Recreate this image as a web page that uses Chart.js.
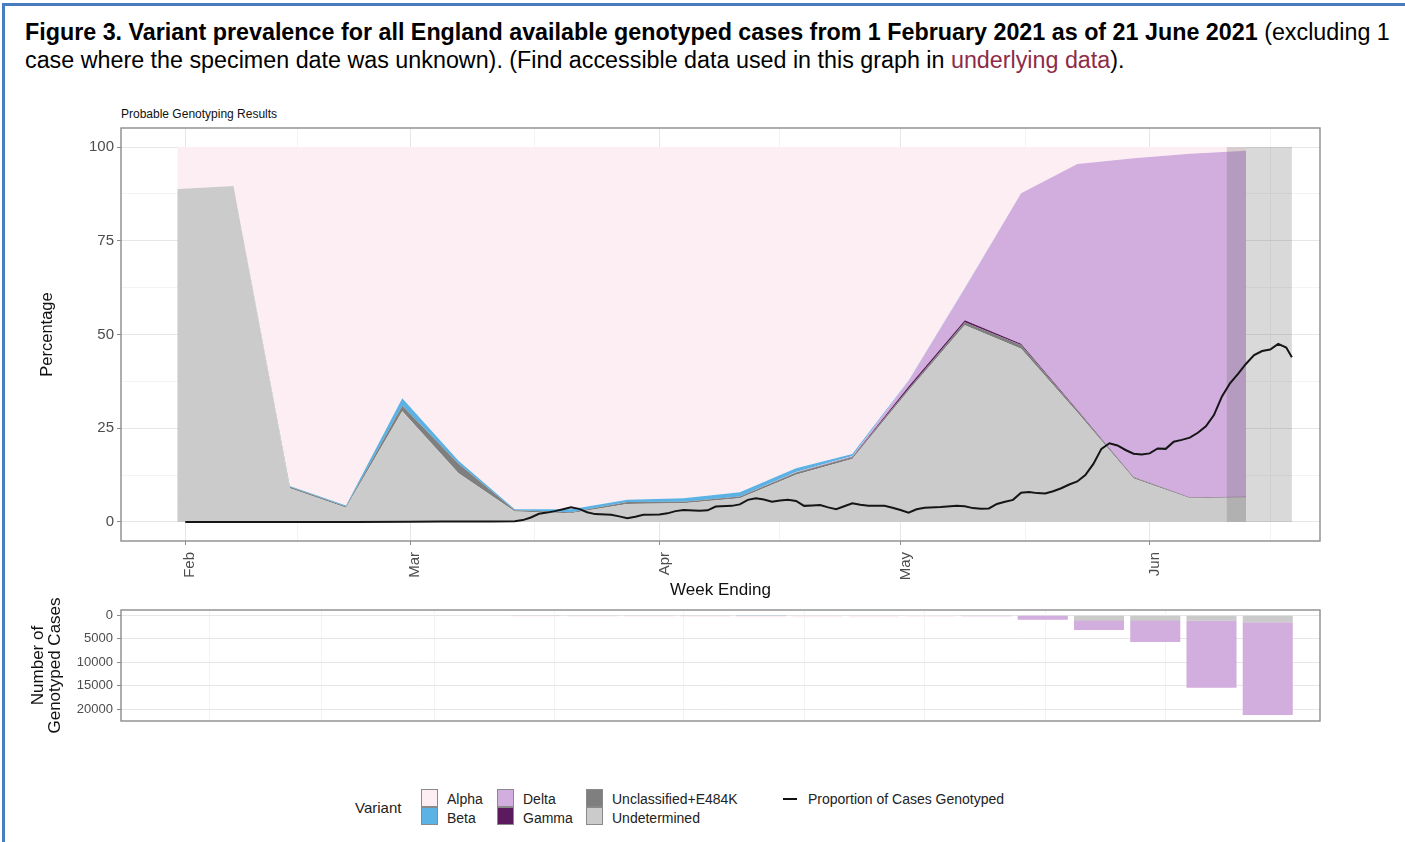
<!DOCTYPE html>
<html>
<head>
<meta charset="utf-8">
<script src="https://cdn.jsdelivr.net/npm/chart.js@4.4.1/dist/chart.umd.min.js"></script>
<style>
  body { margin: 0; width: 1405px; height: 842px; background: #fff; overflow: hidden; position: relative;
         font-family: "Liberation Sans", Arial, sans-serif; }
  #frame { position: absolute; left: 2px; top: 3px; width: 1410px; height: 850px;
           border-left: 3px solid #4a7cc0; border-top: 3px solid #4a7cc0; }
  #caption { position: absolute; left: 25px; top: 18px; font-size: 23.3px; line-height: 28px; color: #000; white-space: nowrap; }
  #caption .lnk { color: #8e2b47; }
  #subtitle { position: absolute; left: 121px; top: 107px; font-size: 12px; color: #111; }
  #topChart { position: absolute; left: 0; top: 100px; }
  #bottomChart { position: absolute; left: 0; top: 580px; }
  .lg { position: absolute; font-size: 14px; color: #222; line-height: 16px; }
  .sw { position: absolute; width: 15px; height: 16px; border: 1px solid #8a8a8a; }
</style>
</head>
<body>
<div id="frame"></div>
<div id="caption"><b>Figure 3. Variant prevalence for all England available genotyped cases from 1 February 2021 as of 21 June 2021</b> (excluding 1<br>case where the specimen date was unknown). (Find accessible data used in this graph in <span class="lnk">underlying data</span>).</div>
<div id="subtitle">Probable Genotyping Results</div>
<canvas id="topChart" width="1405" height="505"></canvas>
<canvas id="bottomChart" width="1405" height="153"></canvas>

<div class="lg" style="left:355px;top:800px;font-size:15px;">Variant</div>
<div class="sw" style="left:421px;top:789px;background:#fdeef3;"></div>
<div class="sw" style="left:421px;top:807px;background:#5cb2e4;"></div>
<div class="lg" style="left:447px;top:791px;">Alpha</div>
<div class="lg" style="left:447px;top:810px;">Beta</div>
<div class="sw" style="left:497px;top:789px;background:#d2aede;"></div>
<div class="sw" style="left:497px;top:807px;background:#5c1a5e;"></div>
<div class="lg" style="left:523px;top:791px;">Delta</div>
<div class="lg" style="left:523px;top:810px;">Gamma</div>
<div class="sw" style="left:586px;top:789px;background:#7f7f7f;"></div>
<div class="sw" style="left:586px;top:807px;background:#cbcbcb;"></div>
<div class="lg" style="left:612px;top:791px;">Unclassified+E484K</div>
<div class="lg" style="left:612px;top:810px;">Undetermined</div>
<div style="position:absolute;left:783px;top:798px;width:14px;height:2px;background:#111;"></div>
<div class="lg" style="left:808px;top:791px;">Proportion of Cases Genotyped</div>

<script>
// week ending dates as days after 1 Feb 2021 (Jan 31 .. Jun 13)
const weekDays = [-1, 6, 13, 20, 27, 34, 41, 48, 55, 62, 69, 76, 83, 90, 97, 104, 111, 118, 125, 132];

// percentage of genotyped cases per variant
const undetermined = [88.8, 89.6, 9.0, 3.8, 29.5, 13.0, 2.8, 2.3, 4.8, 5.0, 6.3, 12.6, 16.8, 35.0, 52.5, 46.2, 29.2, 11.6, 6.3, 6.5];
const unclassified = [0, 0, 0.4, 0.3, 1.5, 2.5, 0.3, 0.3, 0.5, 0.4, 0.5, 0.6, 0.5, 0.5, 0.8, 1.0, 0.5, 0.3, 0.2, 0.1];
const gamma        = [0, 0, 0, 0, 0, 0, 0, 0, 0, 0, 0, 0, 0.1, 0.6, 0.5, 0.3, 0.2, 0.1, 0.1, 0.1];
const delta        = [0, 0, 0, 0, 0, 0, 0, 0, 0, 0, 0, 0.1, 0.2, 1.5, 8.5, 40.2, 65.6, 85.0, 91.6, 92.3];
const beta         = [0, 0, 0.2, 0.3, 2.0, 0.8, 0.3, 0.8, 0.6, 0.9, 1.1, 1.0, 0.5, 0.1, 0.1, 0, 0, 0, 0, 0];
const alpha        = [11.2, 10.4, 90.4, 95.6, 67.0, 83.7, 96.6, 96.6, 94.1, 93.7, 92.1, 85.7, 81.9, 62.3, 37.6, 12.3, 4.5, 3.0, 1.8, 1.0];

// proportion of cases genotyped (daily, %)
const lineDays = [0, 7, 14, 21, 28, 32, 38, 41, 42, 43, 44, 45, 46, 47, 48, 49, 50, 51, 53, 54, 55, 56, 57, 59, 60, 61, 62, 64, 65, 66, 68, 69, 70, 71, 72, 73, 74, 75, 76, 77, 78, 79, 80, 81, 82, 83, 84, 85, 87, 88, 89, 90, 91, 92, 94, 96, 97, 98, 99, 100, 101, 102, 103, 104, 105, 106, 107, 108, 109, 110, 111, 112, 113, 114, 115, 116, 117, 118, 119, 120, 121, 122, 123, 124, 125, 126, 127, 128, 129, 130, 131, 132, 133, 134, 135, 136, 137, 137.7];
const lineValues = [0, 0, 0, 0, 0.05, 0.1, 0.15, 0.2, 0.5, 1.2, 2.2, 2.5, 2.9, 3.4, 3.9, 3.5, 2.6, 2.1, 1.9, 1.5, 1.0, 1.4, 1.9, 2.0, 2.3, 2.9, 3.2, 3.0, 3.1, 4.1, 4.3, 4.7, 5.9, 6.3, 6.0, 5.4, 5.7, 5.9, 5.6, 4.3, 4.4, 4.5, 3.9, 3.4, 4.2, 5.0, 4.6, 4.3, 4.3, 3.8, 3.2, 2.5, 3.4, 3.8, 4.0, 4.3, 4.2, 3.7, 3.5, 3.6, 4.8, 5.4, 5.9, 7.8, 8.0, 7.7, 7.6, 8.2, 9.0, 10.0, 10.8, 12.5, 15.5, 19.5, 21.0, 20.4, 19.2, 18.2, 18.0, 18.3, 19.6, 19.5, 21.4, 21.9, 22.5, 23.8, 25.5, 28.5, 33.5, 37.0, 39.5, 42.2, 44.5, 45.6, 46.0, 47.5, 46.5, 43.9];

// incomplete-data shading (days)
const shadeRange = [129.6, 137.7];

// weekly number of genotyped cases (bar centres in days)
const barDays = [43.7, 50.7, 57.7, 64.7, 71.7, 78.7, 85.7, 92.7, 99.7, 106.7, 113.7, 120.7, 127.7, 134.7];
const barUndetermined = [15, 10, 15, 20, 30, 60, 80, 120, 180, 120, 1100, 1100, 1200, 1500];
const barUnclassified = [5, 5, 5, 5, 5, 5, 5, 5, 5, 10, 20, 20, 20, 20];
const barGamma        = [0, 0, 0, 0, 0, 0, 1, 2, 2, 3, 5, 5, 5, 5];
const barDelta        = [0, 0, 0, 0, 0, 0, 1, 10, 60, 850, 2000, 4550, 14150, 19650];
const barBeta         = [5, 10, 10, 10, 10, 8, 5, 2, 0, 0, 0, 0, 0, 0];
const barAlpha        = [280, 330, 300, 330, 380, 360, 320, 220, 40, 30, 30, 40, 50, 60];

// axis ticks
const monthTicks = { 0: 'Feb', 28: 'Mar', 59: 'Apr', 89: 'May', 120: 'Jun' };
const xTickDays = [0, 14, 28, 43.5, 59, 74, 89, 104.5, 120, 135];
const pctTicks = [0, 12.5, 25, 37.5, 50, 62.5, 75, 87.5, 100];
const countTicks = [0, 2500, 5000, 7500, 10000, 12500, 15000, 17500, 20000];
const bottomGridDays = [3, 17, 31, 46, 62, 77, 92, 107, 122];

const colors = {
    Alpha: '#fdeef3', Beta: '#5cb2e4', Delta: '#d2aede', Gamma: '#5c1a5e',
    Unclassified: '#7f7f7f', Undetermined: '#cbcbcb'
};
const MAJOR = '#e6e6e6', MINOR = '#f3f3f3', AXIS = '#8c8c8c';

Chart.defaults.font.family = '"Liberation Sans", Arial, sans-serif';
Chart.defaults.color = '#4d4d4d';

const pts = (xs, ys) => xs.map((x, i) => ({ x, y: ys[i] }));

// grey border round the panel, like ggplot theme_bw
const panelBorder = {
    id: 'panelBorder',
    afterDraw(chart) {
        const { ctx, chartArea: a } = chart;
        ctx.save();
        ctx.strokeStyle = AXIS;
        ctx.lineWidth = 1.4;
        ctx.strokeRect(a.left, a.top, a.right - a.left, a.bottom - a.top);
        ctx.restore();
    }
};

// shaded block for the last, incomplete days; drawn just before the black line
const shade = {
    id: 'shade',
    beforeDatasetDraw(chart, args) {
        if (args.index !== 0) return;
        const { ctx, scales } = chart;
        const x0 = scales.x.getPixelForValue(shadeRange[0]);
        const x1 = scales.x.getPixelForValue(shadeRange[1]);
        const y0 = scales.y.getPixelForValue(100);
        const y1 = scales.y.getPixelForValue(0);
        ctx.save();
        ctx.fillStyle = 'rgba(95,95,95,0.24)';
        ctx.fillRect(x0, y0, x1 - x0, y1 - y0);
        ctx.restore();
    }
};

const area = (label, ys, fill) => ({
    label, data: pts(weekDays, ys), fill,
    backgroundColor: colors[label], borderWidth: 0, pointRadius: 0, tension: 0
});

new Chart(document.getElementById('topChart'), {
    type: 'line',
    data: {
        datasets: [
            {
                label: 'Proportion of Cases Genotyped', data: pts(lineDays, lineValues), yAxisID: 'y2',
                borderColor: '#151515', borderWidth: 2, pointRadius: 0, fill: false, tension: 0
            },
            area('Undetermined', undetermined, 'origin'),
            area('Unclassified', unclassified, '-1'),
            area('Gamma', gamma, '-1'),
            area('Delta', delta, '-1'),
            area('Beta', beta, '-1'),
            area('Alpha', alpha, '-1')
        ]
    },
    options: {
        responsive: false,
        animation: false,
        layout: { padding: { top: 28, right: 85, bottom: 0, left: 0 } },
        plugins: { legend: { display: false }, tooltip: { enabled: false } },
        scales: {
            x: {
                type: 'linear', min: -8, max: 141.2,
                afterBuildTicks: s => { s.ticks = xTickDays.map(v => ({ value: v })); },
                afterFit: s => { s.height = 64; },
                border: { display: false },
                grid: {
                    color: c => (monthTicks[c.tick.value] ? MAJOR : MINOR),
                    tickColor: c => (monthTicks[c.tick.value] ? AXIS : 'rgba(0,0,0,0)'),
                    tickLength: 4
                },
                ticks: {
                    autoSkip: false, minRotation: 90, maxRotation: 90, padding: 7, labelOffset: 5,
                    font: { size: 15 },
                    callback: v => monthTicks[v] || ''
                },
                title: { display: true, text: 'Week Ending', color: '#111', font: { size: 17 }, padding: { top: 0, bottom: 4 } }
            },
            y: {
                stacked: true, min: -5.07, max: 105.07,
                afterBuildTicks: s => { s.ticks = pctTicks.map(v => ({ value: v })); },
                afterFit: s => { s.width = 121; },
                border: { display: false },
                grid: {
                    color: c => (c.tick.value % 25 === 0 ? MAJOR : MINOR),
                    tickColor: c => (c.tick.value % 25 === 0 ? AXIS : 'rgba(0,0,0,0)'),
                    tickLength: 4
                },
                ticks: { padding: 3, font: { size: 15 }, callback: v => (v % 25 === 0 ? v : '') },
                title: { display: true, text: 'Percentage', color: '#111', font: { size: 16.5 }, padding: { top: 38, bottom: 0 } }
            },
            y2: { display: false, min: -5.07, max: 105.07 }
        }
    },
    plugins: [shade, panelBorder]
});

const bar = (label, ys) => ({
    label, data: pts(barDays, ys), backgroundColor: colors[label],
    borderWidth: 0, barPercentage: 1, categoryPercentage: 0.89
});

new Chart(document.getElementById('bottomChart'), {
    type: 'bar',
    data: {
        datasets: [
            bar('Undetermined', barUndetermined),
            bar('Unclassified', barUnclassified),
            bar('Gamma', barGamma),
            bar('Delta', barDelta),
            bar('Beta', barBeta),
            bar('Alpha', barAlpha)
        ]
    },
    options: {
        responsive: false,
        animation: false,
        layout: { padding: { top: 30, right: 85, bottom: 12, left: 0 } },
        plugins: { legend: { display: false }, tooltip: { enabled: false } },
        scales: {
            x: {
                type: 'linear', min: -8, max: 141.2, stacked: true, offset: false,
                afterBuildTicks: s => { s.ticks = bottomGridDays.map(v => ({ value: v })); },
                afterFit: s => { s.height = 0; },
                border: { display: false },
                grid: { color: MINOR, offset: false, drawTicks: false },
                ticks: { display: false }
            },
            y: {
                stacked: true, reverse: true, min: -1100, max: 22450,
                afterBuildTicks: s => { s.ticks = countTicks.map(v => ({ value: v })); },
                afterFit: s => { s.width = 121; },
                border: { display: false },
                grid: {
                    color: c => (c.tick.value % 5000 === 0 ? MAJOR : MINOR),
                    tickColor: c => (c.tick.value % 5000 === 0 ? AXIS : 'rgba(0,0,0,0)'),
                    tickLength: 4
                },
                ticks: { padding: 4, font: { size: 13 }, callback: v => (v % 5000 === 0 ? v : '') },
                title: {
                    display: true, text: ['Number of', 'Genotyped Cases'], color: '#111',
                    font: { size: 17, lineHeight: 1.05 }, padding: { top: 29, bottom: 0 }
                }
            }
        }
    },
    plugins: [panelBorder]
});
</script>
</body>
</html>
